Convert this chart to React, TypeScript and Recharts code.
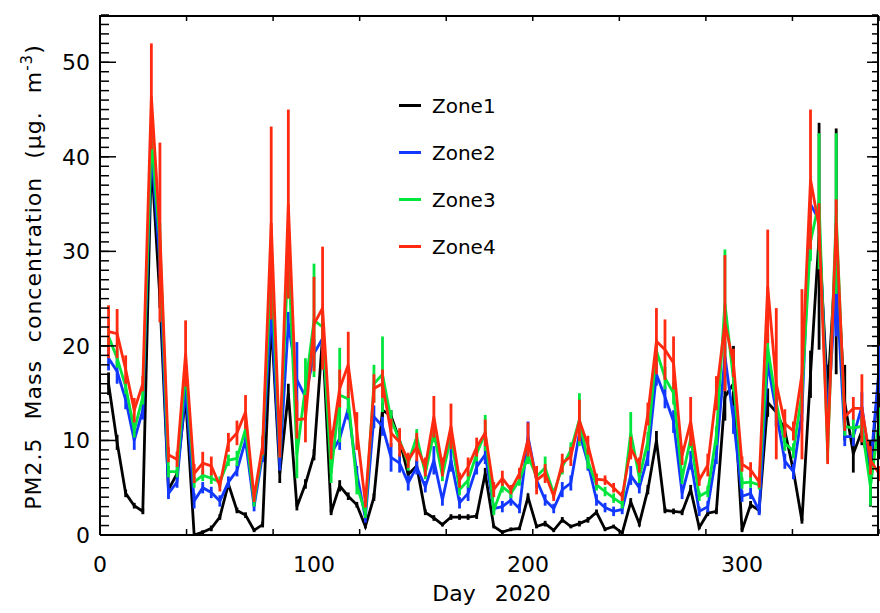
import React from 'react';
import { LineChart, Line, XAxis, YAxis, ErrorBar, Legend } from 'recharts';

const DAYS = [
  4, 8, 12, 16, 20, 24, 28, 32, 36, 40,
  44, 48, 52, 56, 60, 64, 68, 72, 76, 80,
  84, 88, 92, 96, 100, 104, 108, 112, 116, 120,
  124, 128, 132, 136, 140, 144, 148, 152, 156, 160,
  164, 168, 172, 176, 180, 184, 188, 192, 196, 200,
  204, 208, 212, 216, 220, 224, 228, 232, 236, 240,
  244, 248, 252, 256, 260, 264, 268, 272, 276, 280,
  284, 288, 292, 296, 300, 304, 308, 312, 316, 320,
  324, 328, 332, 336, 340, 344, 348, 352, 356, 360,
  364,
];

const ZONE1 = [
  16.0, 9.8, 4.4, 3.1, 2.5, 40.0, 25.0, 4.8, 6.5, 14.6,
  0.0, 0.3, 0.7, 1.9, 5.4, 2.6, 2.1, 0.5, 1.1, 22.8,
  6.5, 15.0, 3.0, 5.4, 8.5, 21.0, 2.4, 5.2, 4.1, 3.2,
  0.9, 4.0, 13.2, 12.6, 10.0, 6.4, 7.3, 2.4, 1.8, 1.1,
  1.9, 1.9, 1.9, 2.0, 6.5, 0.9, 0.3, 0.6, 0.7, 4.0,
  0.9, 1.2, 0.5, 1.6, 0.9, 1.2, 1.6, 2.4, 0.6, 0.9,
  0.2, 3.5, 1.2, 4.8, 10.0, 2.6, 2.5, 2.4, 4.8, 0.8,
  2.3, 2.5, 14.6, 16.0, 0.5, 3.2, 2.6, 14.0, 13.0, 11.0,
  6.8, 1.5, 17.0, 31.6, 15.0, 30.0, 14.0, 8.6, 11.0, 6.5,
  17.0,
];
const ZONE2 = [
  18.7, 17.3, 14.3, 10.0, 13.2, 41.0, 28.7, 4.4, 5.6, 15.5,
  3.6, 5.0, 4.5, 3.6, 5.6, 6.8, 10.0, 3.0, 8.5, 24.0,
  7.6, 22.4, 16.4, 14.6, 19.2, 20.8, 8.6, 10.2, 13.4, 6.5,
  1.8, 12.5, 11.5, 8.2, 7.6, 5.5, 7.2, 5.1, 7.9, 3.7,
  7.9, 3.4, 4.4, 7.2, 8.5, 2.8, 3.0, 3.7, 2.8, 10.4,
  5.8, 3.7, 2.8, 4.8, 5.5, 10.8, 7.6, 3.7, 2.9, 2.5,
  2.7, 6.3, 5.0, 8.3, 17.0, 14.6, 12.0, 4.4, 7.9, 2.5,
  3.0, 8.5, 18.9, 12.2, 4.1, 4.4, 2.6, 18.2, 13.0, 7.8,
  6.7, 13.0, 35.0, 33.3, 12.0, 27.0, 10.4, 10.4, 13.6, 7.2,
  17.5,
];
const ZONE3 = [
  21.0, 18.7, 15.7, 11.1, 14.6, 42.0, 31.0, 6.7, 6.7, 17.6,
  5.6, 6.3, 6.0, 5.6, 7.9, 8.1, 11.2, 3.5, 9.2, 28.4,
  9.0, 29.8, 8.5, 15.7, 22.7, 22.0, 6.5, 14.8, 14.4, 5.3,
  2.3, 16.0, 17.0, 12.2, 10.0, 7.6, 10.4, 6.5, 10.8, 6.3,
  10.4, 4.8, 5.8, 8.6, 10.8, 2.6, 5.1, 4.4, 5.8, 8.3,
  6.2, 7.1, 4.4, 7.2, 9.0, 12.2, 7.8, 5.3, 4.6, 3.9,
  3.3, 10.8, 6.1, 9.9, 19.5, 16.6, 15.0, 6.0, 10.2, 4.1,
  4.6, 10.5, 24.5, 16.4, 5.5, 5.6, 5.3, 19.8, 14.0, 9.7,
  8.9, 15.0, 31.0, 35.3, 8.6, 34.0, 11.5, 11.3, 11.5, 5.1,
  12.0,
];
const ZONE4 = [
  21.5, 21.3, 17.5, 13.2, 16.0, 46.4, 32.0, 8.5, 8.0, 19.2,
  6.5, 7.6, 7.3, 5.2, 9.8, 10.8, 13.0, 4.0, 9.5, 33.0,
  9.0, 35.0, 12.2, 12.3, 22.3, 24.0, 9.5, 15.5, 18.0, 11.0,
  3.4, 15.5, 16.0, 10.8, 9.8, 7.9, 9.3, 7.2, 12.5, 7.2,
  11.5, 5.8, 7.2, 9.3, 10.8, 4.8, 6.0, 4.8, 6.5, 10.1,
  5.8, 6.5, 4.1, 7.6, 8.3, 12.1, 9.5, 5.9, 5.8, 5.0,
  4.1, 9.2, 7.4, 12.8, 20.5, 19.6, 18.2, 8.4, 12.0, 5.8,
  7.4, 15.0, 22.4, 18.2, 7.5, 6.9, 5.6, 26.3, 16.0, 11.8,
  11.0, 17.0, 37.6, 32.6, 9.0, 33.0, 12.5, 13.4, 13.4, 7.9,
  6.5,
];

const ZONE1_ERR = [
  1.2, 0.8, 0.4, 0.3, 0.3, 1.0, 1.0, 0.4, 0.4, 0.8,
  0.0, 0.2, 0.3, 0.3, 0.4, 0.3, 0.3, 0.2, 0.3, 1.0,
  1.0, 1.0, 0.4, 0.5, 0.6, 1.0, 0.3, 0.6, 0.4, 0.3,
  0.2, 0.4, 0.8, 0.6, 0.6, 0.5, 0.5, 0.3, 0.3, 0.2,
  0.3, 0.3, 0.3, 0.3, 0.6, 0.2, 0.2, 0.2, 0.2, 0.4,
  0.2, 0.3, 0.2, 0.3, 0.2, 0.3, 0.3, 0.3, 0.2, 0.2,
  0.2, 0.4, 0.3, 0.5, 1.0, 0.3, 0.3, 0.3, 0.5, 0.2,
  0.3, 0.3, 2.5, 4.0, 0.2, 0.4, 0.3, 1.5, 1.5, 1.0,
  0.8, 0.3, 2.5, 12.0, 3.0, 13.0, 4.0, 2.0, 1.5, 3.5,
  9.0,
];
const ZONE2_ERR = [
  1.3, 1.3, 1.0, 1.0, 1.0, 1.2, 1.2, 0.6, 0.6, 1.0,
  0.8, 0.6, 0.6, 0.6, 0.6, 0.6, 0.8, 0.5, 0.8, 1.2,
  0.8, 1.2, 4.0, 1.5, 1.5, 2.0, 1.0, 1.2, 1.2, 0.8,
  0.5, 1.2, 1.0, 1.5, 1.0, 0.8, 0.8, 0.6, 1.5, 0.6,
  1.2, 0.6, 0.8, 0.8, 1.0, 0.5, 0.6, 0.6, 0.5, 1.6,
  0.8, 0.6, 0.5, 0.8, 0.8, 1.0, 0.8, 0.6, 0.5, 0.5,
  0.5, 1.0, 0.6, 1.0, 1.2, 1.2, 1.2, 0.6, 1.0, 0.5,
  0.6, 1.0, 1.5, 1.5, 0.6, 0.6, 0.5, 1.2, 1.5, 0.8,
  0.8, 1.0, 1.5, 1.5, 1.0, 6.0, 1.0, 1.0, 1.5, 2.0,
  2.5,
];
const ZONE3_ERR = [
  1.0, 1.0, 0.8, 0.8, 0.8, 1.2, 2.0, 0.6, 0.6, 1.0,
  0.6, 0.6, 0.6, 0.6, 0.6, 0.8, 0.8, 0.5, 0.8, 1.5,
  0.8, 1.5, 2.5, 3.0, 6.0, 2.0, 1.0, 5.0, 1.5, 1.0,
  0.5, 2.0, 4.0, 1.0, 1.0, 0.8, 0.8, 0.6, 1.0, 0.6,
  1.0, 0.6, 0.8, 0.8, 1.9, 0.5, 0.6, 0.5, 0.6, 0.8,
  0.8, 1.2, 0.5, 0.8, 0.8, 2.8, 0.8, 0.6, 0.5, 0.5,
  0.5, 2.2, 0.6, 1.0, 1.2, 1.2, 1.2, 0.6, 1.0, 0.5,
  0.6, 1.0, 5.7, 1.2, 0.6, 0.6, 0.5, 1.5, 1.0, 0.8,
  0.8, 1.0, 2.0, 7.2, 0.8, 8.5, 1.0, 1.0, 1.0, 2.0,
  1.5,
];
const ZONE4_ERR = [
  2.8, 2.6, 1.5, 1.3, 0.8, 5.6, 9.5, 0.8, 0.8, 3.5,
  1.0, 1.2, 1.0, 0.6, 1.0, 1.3, 1.8, 0.5, 1.0, 10.2,
  0.8, 10.0, 2.0, 2.5, 5.0, 6.5, 1.5, 2.0, 3.5, 2.0,
  0.5, 1.5, 1.5, 1.5, 1.5, 0.8, 1.5, 1.0, 2.2, 1.0,
  2.4, 0.8, 1.0, 1.0, 1.4, 0.8, 0.8, 0.5, 0.6, 1.8,
  1.5, 1.0, 0.5, 1.0, 1.0, 2.2, 1.0, 0.6, 0.5, 0.5,
  0.5, 1.2, 0.8, 1.2, 3.5, 3.2, 2.8, 1.0, 2.6, 0.6,
  1.2, 1.8, 7.2, 1.5, 0.8, 0.8, 0.6, 6.0, 8.0, 1.5,
  1.0, 9.0, 7.4, 2.5, 1.5, 2.5, 1.5, 1.2, 3.6, 1.5,
  0.8,
];

const X_TICKS = [0, 100, 200, 300];
const X_MINOR_TICKS = [0, 10, 20, 30, 40, 50, 60, 70, 80, 90, 100, 110, 120, 130, 140, 150, 160, 170, 180, 190, 200, 210, 220, 230, 240, 250, 260, 270, 280, 290, 300, 310, 320, 330, 340, 350, 360];
const Y_TICKS = [0, 10, 20, 30, 40, 50];
const Y_MINOR_TICKS = [0, 1, 2, 3, 4, 5, 6, 7, 8, 9, 10, 11, 12, 13, 14, 15, 16, 17, 18, 19, 20, 21, 22, 23, 24, 25, 26, 27, 28, 29, 30, 31, 32, 33, 34, 35, 36, 37, 38, 39, 40, 41, 42, 43, 44, 45, 46, 47, 48, 49, 50, 51, 52, 53, 54, 55];
const X_DOMAIN = [0, 364];
const Y_DOMAIN = [0, 55];

const SERIES = [
  { key: 'z1', err: 'e1', name: 'Zone1', color: '#000000', values: ZONE1, errors: ZONE1_ERR },
  { key: 'z2', err: 'e2', name: 'Zone2', color: '#1238ff', values: ZONE2, errors: ZONE2_ERR },
  { key: 'z3', err: 'e3', name: 'Zone3', color: '#00e63c', values: ZONE3, errors: ZONE3_ERR },
  { key: 'z4', err: 'e4', name: 'Zone4', color: '#ff2a10', values: ZONE4, errors: ZONE4_ERR },
];

const data = DAYS.map((day, i) => {
  const row: Record<string, number> = { day };
  SERIES.forEach((s) => {
    row[s.key] = s.values[i];
    row[s.err] = s.errors[i];
  });
  return row;
});

const FONT = '"DejaVu Sans", sans-serif';
const EmptyTick = () => <g />;

const renderLegend = () => (
  <div style={{ fontFamily: FONT, fontSize: 20, color: '#000' }}>
    {SERIES.map((s) => (
      <div key={s.key} style={{ display: 'flex', alignItems: 'center', height: 47 }}>
        <span style={{ display: 'inline-block', width: 22, height: 3, background: s.color, marginRight: 11 }} />
        <span>{s.name}</span>
      </div>
    ))}
  </div>
);

const YTitle = (props: any) => {
  const vb = props.viewBox || { x: 0, y: 15, width: 100, height: 520 };
  const cx = vb.x + 41;
  const cy = vb.y + vb.height / 2 + 2;
  return (
    <text
      transform={`translate(${cx},${cy}) rotate(-90)`}
      textAnchor="middle"
      fontFamily={FONT}
      fontSize={22}
      letterSpacing={1}
      wordSpacing={10}
      fill="#000"
    >
      PM2.5 Mass concentration (μg. m<tspan dy={-9} fontSize={15}>-3</tspan><tspan dy={9}>)</tspan>
    </text>
  );
};

const XTitle = (props: any) => {
  const vb = props.viewBox || { x: 100, y: 535, width: 779, height: 78 };
  return (
    <text
      x={vb.x + vb.width / 2 + 2}
      y={601}
      textAnchor="middle"
      fontFamily={FONT}
      fontSize={22}
      wordSpacing={12}
      fill="#000"
    >
      Day 2020
    </text>
  );
};

const tickStyle = { fill: '#000', fontSize: 22, fontFamily: FONT };
const minorLine = { stroke: '#000', strokeWidth: 1.5 };
const frameLine = { stroke: '#000', strokeWidth: 2 };

export default function App() {
  return (
    <div style={{ position: 'absolute', left: 0, top: 0, background: '#fff' }}>
      <LineChart width={880} height={613} data={data} margin={{ top: 15, right: 1, bottom: 0, left: 0 }}>
        <XAxis
          xAxisId="b"
          dataKey="day"
          type="number"
          domain={X_DOMAIN}
          allowDataOverflow
          ticks={X_TICKS}
          interval={0}
          height={78}
          tickLine={false}
          tickSize={0}
          tickMargin={21}
          tick={tickStyle}
          axisLine={frameLine}
          label={<XTitle />}
        />
        <XAxis xAxisId="bmin" type="number" height={1} domain={X_DOMAIN} allowDataOverflow ticks={X_MINOR_TICKS} interval={0} mirror orientation="bottom" tick={EmptyTick} tickSize={5} tickLine={minorLine} axisLine={false} />
        <XAxis xAxisId="bmaj" type="number" height={1} domain={X_DOMAIN} allowDataOverflow ticks={X_TICKS} interval={0} mirror orientation="bottom" tick={EmptyTick} tickSize={10} tickLine={minorLine} axisLine={false} />
        <XAxis xAxisId="tmin" type="number" height={1} domain={X_DOMAIN} allowDataOverflow ticks={X_MINOR_TICKS} interval={0} mirror orientation="top" tick={EmptyTick} tickSize={5} tickLine={minorLine} axisLine={frameLine} />
        <XAxis xAxisId="tmaj" type="number" height={1} domain={X_DOMAIN} allowDataOverflow ticks={X_TICKS} interval={0} mirror orientation="top" tick={EmptyTick} tickSize={10} tickLine={minorLine} axisLine={false} />

        <YAxis
          yAxisId="l"
          type="number"
          domain={Y_DOMAIN}
          allowDataOverflow
          ticks={Y_TICKS}
          interval={0}
          width={100}
          tickLine={false}
          tickSize={0}
          tickMargin={10}
          tick={tickStyle}
          axisLine={frameLine}
          label={<YTitle />}
        />
        <YAxis yAxisId="lmin" type="number" width={1} domain={Y_DOMAIN} allowDataOverflow ticks={Y_MINOR_TICKS} interval={0} mirror orientation="left" tick={EmptyTick} tickSize={8} tickLine={minorLine} axisLine={false} />
        <YAxis yAxisId="lmaj" type="number" width={1} domain={Y_DOMAIN} allowDataOverflow ticks={Y_TICKS} interval={0} mirror orientation="left" tick={EmptyTick} tickSize={16} tickLine={minorLine} axisLine={false} />
        <YAxis yAxisId="rmin" type="number" width={1} domain={Y_DOMAIN} allowDataOverflow ticks={Y_MINOR_TICKS} interval={0} mirror orientation="right" tick={EmptyTick} tickSize={6} tickLine={minorLine} axisLine={frameLine} />
        <YAxis yAxisId="rmaj" type="number" width={1} domain={Y_DOMAIN} allowDataOverflow ticks={Y_TICKS} interval={0} mirror orientation="right" tick={EmptyTick} tickSize={12} tickLine={minorLine} axisLine={false} />

        {SERIES.map((s) => (
          <Line
            key={s.key}
            xAxisId="b"
            yAxisId="l"
            type="linear"
            dataKey={s.key}
            name={s.name}
            stroke={s.color}
            strokeWidth={2.8}
            dot={false}
            activeDot={false}
            isAnimationActive={false}
          >
            <ErrorBar dataKey={s.err} direction="y" width={0} stroke={s.color} strokeWidth={2.8} />
          </Line>
        ))}

        <Legend
          layout="vertical"
          align="center"
          verticalAlign="middle"
          content={renderLegend}
          wrapperStyle={{ left: 399, top: 82, width: 120, height: 190 }}
        />
      </LineChart>
    </div>
  );
}
